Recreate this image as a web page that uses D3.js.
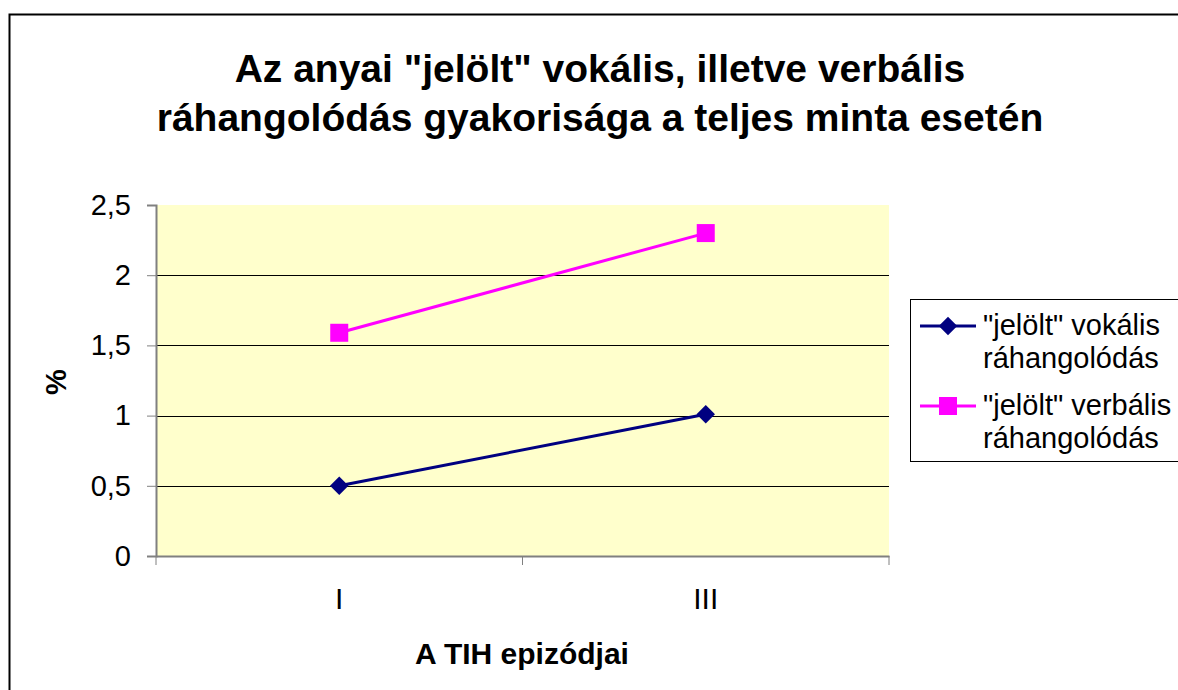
<html>
<head>
  <script src="https://d3js.org/d3.v7.min.js"></script>
  <style>
    body { margin: 0; background: white; }
    text { font-family: "Liberation Sans", Arial, sans-serif; }
  </style>
</head>
<body>
  <svg id="chart" width="1178" height="690"></svg>
  <script>
    var categories = ["I", "III"];
    var vokalis = [0.5, 1.01];
    var verbalis = [1.59, 2.3];
    var yTicks = [0, 0.5, 1, 1.5, 2, 2.5];
    var seriesNames = [["\"jelölt\" vokális", "ráhangolódás"], ["\"jelölt\" verbális", "ráhangolódás"]];

    var svg = d3.select("#chart");
    var plot = {left: 156, right: 889, top: 205, bottom: 556};
    var fontFam = "'Liberation Sans', Arial, sans-serif";

    // outer frame
    svg.append("rect").attr("x", 9.5).attr("y", 14.5).attr("width", 1200).attr("height", 700)
       .attr("fill", "white").attr("stroke", "black").attr("stroke-width", 2);

    svg.append("text").attr("x", 600).attr("y", 82).attr("text-anchor", "middle")
       .style("font-size", "39px").style("font-weight", "bold")
       .text("Az anyai \"jelölt\" vokális, illetve verbális");
    svg.append("text").attr("x", 600).attr("y", 131).attr("text-anchor", "middle")
       .style("font-size", "39px").style("font-weight", "bold")
       .text("ráhangolódás gyakorisága a teljes minta esetén");

    var x = d3.scaleBand().domain(categories).range([plot.left, plot.right]);
    var y = d3.scaleLinear().domain([0, 2.5]).range([plot.bottom, plot.top]);

    svg.append("rect").attr("x", plot.left).attr("y", plot.top)
       .attr("width", plot.right - plot.left).attr("height", plot.bottom - plot.top)
       .attr("fill", "#FFFFCC");

    svg.append("g").selectAll("line").data(yTicks.filter(d => d > 0 && d < 2.5)).enter().append("line")
       .attr("x1", plot.left).attr("x2", plot.right)
       .attr("y1", d => Math.round(y(d)) + 0.5).attr("y2", d => Math.round(y(d)) + 0.5)
       .attr("stroke", "black").attr("stroke-width", 1);

    var yAxis = svg.append("g").attr("transform", "translate(" + plot.left + ",0)")
       .call(d3.axisLeft(y).tickValues(yTicks).tickSize(9).tickPadding(16)
             .tickFormat(d => String(d).replace(".", ",")));
    yAxis.select(".domain").attr("stroke", "#808080").attr("stroke-width", 2);
    yAxis.selectAll(".tick line").attr("stroke", "#808080");
    yAxis.selectAll("text").style("font-size", "29px").attr("fill", "black")
       .style("font-family", fontFam);

    var xAxis = svg.append("g").attr("transform", "translate(0," + plot.bottom + ")")
       .call(d3.axisBottom(x).tickSize(0));
    xAxis.select(".domain").attr("stroke", "#808080").attr("stroke-width", 2);
    xAxis.selectAll("text").attr("y", 53).attr("dy", null)
       .style("font-size", "30px").attr("fill", "black")
       .style("font-family", fontFam);
    // category boundary ticks
    svg.append("g").selectAll("line").data(categories.concat(["end"])).enter().append("line")
       .attr("x1", (d, i) => plot.left + i * x.step()).attr("x2", (d, i) => plot.left + i * x.step())
       .attr("y1", plot.bottom).attr("y2", plot.bottom + 9)
       .attr("stroke", "#808080").attr("stroke-width", 1);

    svg.append("text").attr("x", 522).attr("y", 664).attr("text-anchor", "middle")
       .style("font-size", "30px").style("font-weight", "bold").text("A TIH epizódjai");
    svg.append("text").attr("transform", "translate(66,382) rotate(-90)").attr("text-anchor", "middle")
       .style("font-size", "29px").style("font-weight", "bold").text("%");

    var cx = d => x(d) + x.bandwidth() / 2;
    var line = d3.line().x(d => cx(d.c)).y(d => y(d.v));
    var vokData = categories.map((c, i) => ({c: c, v: vokalis[i]}));
    var verbData = categories.map((c, i) => ({c: c, v: verbalis[i]}));

    svg.append("path").datum(verbData).attr("d", line).attr("fill", "none")
       .attr("stroke", "#FF00FF").attr("stroke-width", 3);
    svg.append("path").datum(vokData).attr("d", line).attr("fill", "none")
       .attr("stroke", "#000080").attr("stroke-width", 3);

    svg.selectAll(".vok").data(vokData).enter().append("path")
       .attr("transform", d => "translate(" + cx(d.c) + "," + y(d.v) + ") rotate(45)")
       .attr("d", d3.symbol().type(d3.symbolSquare).size(170)).attr("fill", "#000080");
    svg.selectAll(".verb").data(verbData).enter().append("rect")
       .attr("x", d => cx(d.c) - 9).attr("y", d => y(d.v) - 9)
       .attr("width", 18).attr("height", 18).attr("fill", "#FF00FF");

    // legend
    var lg = svg.append("g").attr("transform", "translate(910,299)");
    lg.append("rect").attr("x", 0.5).attr("y", 0.5).attr("width", 300).attr("height", 162)
      .attr("fill", "white").attr("stroke", "black").attr("stroke-width", 1);
    var colors = ["#000080", "#FF00FF"];
    seriesNames.forEach(function(name, i) {
      var yy = 27 + i * 80;
      lg.append("line").attr("x1", 10).attr("x2", 66).attr("y1", yy).attr("y2", yy)
        .attr("stroke", colors[i]).attr("stroke-width", 3);
      if (i === 0) {
        lg.append("path").attr("transform", "translate(38," + yy + ") rotate(45)")
          .attr("d", d3.symbol().type(d3.symbolSquare).size(170)).attr("fill", colors[i]);
      } else {
        lg.append("rect").attr("x", 29).attr("y", yy - 9).attr("width", 18).attr("height", 18)
          .attr("fill", colors[i]);
      }
      name.forEach(function(t, j) {
        lg.append("text").attr("x", 73).attr("y", yy + 9 + j * 33)
          .style("font-size", "29px").text(t);
      });
    });
  </script>
</body>
</html>
